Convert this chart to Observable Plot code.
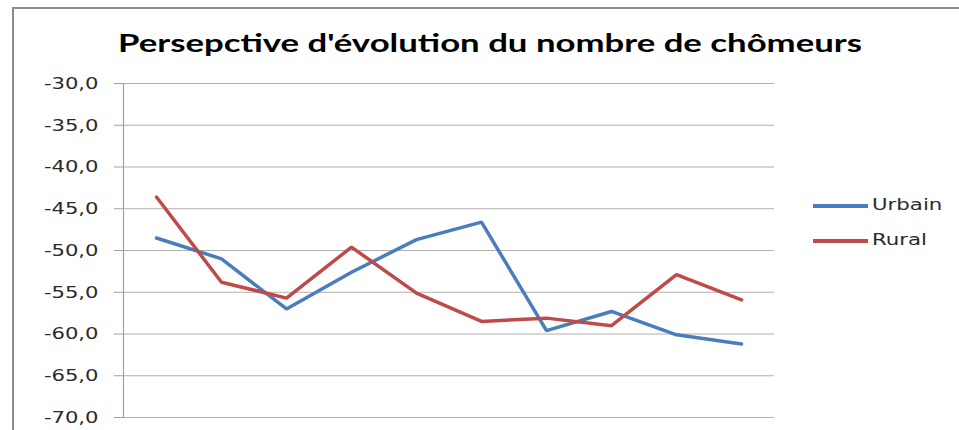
<!DOCTYPE html>
<html><head><meta charset="utf-8">
<script src="https://cdn.jsdelivr.net/npm/d3@7"></script>
<script src="https://cdn.jsdelivr.net/npm/@observablehq/plot@0.6"></script>
<style>
body{margin:0;background:#fff;}
#wrap{position:relative;width:959px;height:430px;overflow:hidden;background:#fff;}
#frame{position:absolute;left:12px;top:7px;width:1000px;height:500px;border-left:2px solid #8c8c8c;border-top:2px solid #8c8c8c;}
#title{position:absolute;top:27px;left:0;white-space:nowrap;font-family:Lato,"Open Sans",sans-serif;font-weight:bold;font-size:25px;color:#000;transform-origin:0 0;}
#chart{position:absolute;left:0;top:60px;}
.leg{position:absolute;left:813px;height:0;width:0;}
.leg .sw{position:absolute;left:0;width:55px;height:3.5px;top:-2px;}
.leg .lb{position:absolute;left:59px;top:-11px;font-family:"DejaVu Sans",sans-serif;font-size:16.5px;color:#2a2a2a;white-space:nowrap;transform:scaleX(1.29);transform-origin:0 0;}
</style>
</head><body>
<div id="wrap">
  <div id="frame"></div>
  <div id="title"></div>
  <div id="chart"></div>
  <div id="legend"></div>
</div>
<script>
const title = "Persepctive d'évolution du nombre de chômeurs";
const categories = ["1","2","3","4","5","6","7","8","9","10"];
const series = ["Urbain","Rural"];
const colors = ["#4a7ebb","#be4b48"];
const urbain = [-48.5,-51.0,-57.0,-52.6,-48.7,-46.6,-59.6,-57.3,-60.1,-61.2];
const rural  = [-43.6,-53.8,-55.7,-49.6,-55.1,-58.5,-58.1,-59.0,-52.9,-55.9];
const yTicks = [-70,-65,-60,-55,-50,-45,-40,-35,-30];

const values = {Urbain: urbain, Rural: rural};
const data = series.flatMap(s => categories.map((c,i) => ({cat:c, serie:s, v:values[s][i]})));

// title, stretched to match reference width
const t = document.getElementById("title");
t.textContent = title;
const tw = t.getBoundingClientRect().width;
const target = 744, center = 490;
const sx = target / tw;
t.style.transform = `scaleX(${sx})`;
t.style.left = (center - target/2) + "px";

const plot = Plot.plot({
  width: 959, height: 370,
  marginTop: 23, marginBottom: 13, marginLeft: 123, marginRight: 185,
  style: {fontFamily: "DejaVu Sans, sans-serif", fontSize: "16.5px", color: "#2a2a2a", background: "transparent", overflow: "visible"},
  x: {type: "point", domain: categories, padding: 0.5, axis: null},
  y: {domain: [-70, -30]},
  color: {domain: series, range: colors},
  marks: [
    Plot.gridY(yTicks, {stroke: "#b0b0b0", strokeOpacity: 1, strokeWidth: 1.2}),
    Plot.axisY(yTicks, {tickSize: 9, tickPadding: 16, stroke: "#a0a0a0", strokeOpacity: 1,
      tickFormat: d => d.toFixed(1).replace(".", ","), fill: "#2a2a2a", label: null}),
    Plot.frame({anchor: "left", stroke: "#a0a0a0", strokeWidth: 1.2}),
    Plot.line(data, {x: "cat", y: "v", z: "serie", stroke: "serie", strokeWidth: 3.5, strokeLinejoin: "miter"})
  ]
});
// widen tick labels horizontally (reference glyphs are stretched)
plot.querySelectorAll('g[aria-label="y-axis tick label"] text').forEach(el => {
  const tr = el.getAttribute("transform") || "";
  el.setAttribute("transform", tr + " scale(1.28,1)");
});
document.getElementById("chart").appendChild(plot);

// legend
const legend = document.getElementById("legend");
const legY = [206, 241];
series.forEach((s, i) => {
  const d = document.createElement("div");
  d.className = "leg";
  d.style.top = legY[i] + "px";
  d.innerHTML = `<div class="sw" style="background:${colors[i]}"></div><div class="lb">${s}</div>`;
  legend.appendChild(d);
});
</script>
</body></html>
